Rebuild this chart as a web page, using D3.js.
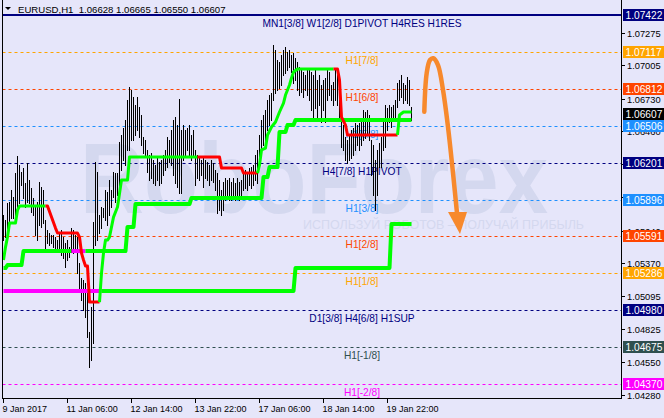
<!DOCTYPE html>
<html>
<head>
<meta charset="utf-8">
<script src="https://cdn.jsdelivr.net/npm/d3@7/dist/d3.min.js"></script>
<style>
  body { margin: 0; background: #E6E6FA; }
  svg { display: block; font-family: "Liberation Sans", Arial, sans-serif; }
</style>
</head>
<body>
<div id="chart"></div>
<script>
var width = 664,
    height = 418;

// header
var symbol = "EURUSD,H1";
var ohlc = [1.06628, 1.06665, 1.06550, 1.06607];
var lastPrice = 1.06607;

// hourly bars, high / low
var barHigh = [
  1.05768,1.05727,1.05867,1.05876,1.05975,1.05917,1.06115,1.06256,1.06181,1.06124,
  1.06157,1.06033,1.06198,1.06057,1.05991,1.05909,1.05851,1.05876,1.06041,1.06000,
  1.05975,1.05727,1.05644,1.05619,1.05603,1.05603,1.05586,1.05561,1.05627,1.05644,
  1.05586,1.05536,1.05561,1.05503,1.05660,1.05644,1.05603,1.05586,1.05371,1.05247,
  1.05230,1.05206,1.05123,1.04800,1.05007,1.05710,1.06206,1.06124,1.05768,1.05834,
  1.05826,1.05975,1.05958,1.06057,1.05975,1.06124,1.06115,1.06115,1.06372,1.06430,
  1.06487,1.06554,1.06719,1.06827,1.06802,1.06744,1.06678,1.06744,1.06661,1.06595,
  1.06413,1.06388,1.06306,1.06264,1.06281,1.06223,1.06181,1.06239,1.06206,1.06223,
  1.06264,1.06306,1.06413,1.06388,1.06471,1.06554,1.06578,1.06512,1.06727,1.06471,
  1.06512,1.06471,1.06487,1.06512,1.06430,1.06471,1.06306,1.06264,1.06248,1.06223,
  1.06248,1.06223,1.06206,1.06181,1.06223,1.06198,1.06140,1.06115,1.06057,1.05975,
  1.06041,1.06074,1.06057,1.06074,1.06041,1.06074,1.06033,1.06074,1.06041,1.06057,
  1.06115,1.06140,1.06124,1.06157,1.06165,1.06181,1.06264,1.06306,1.06430,1.06554,
  1.06595,1.06636,1.06719,1.06760,1.06777,1.07174,1.07132,1.07050,1.07033,1.07091,
  1.07132,1.07157,1.07116,1.07132,1.07091,1.07108,1.07066,1.07033,1.06992,1.06967,
  1.06951,1.06926,1.06967,1.06984,1.06951,1.06926,1.06967,1.06884,1.06926,1.06843,
  1.06884,1.06901,1.06967,1.06951,1.06843,1.06868,1.06967,1.06926,1.06719,1.06578,
  1.06512,1.06413,1.06388,1.06430,1.06471,1.06487,1.06529,1.06512,1.06529,1.06554,
  1.06636,1.06620,1.06636,1.06595,1.06388,1.06347,1.06223,1.06306,1.06363,1.06413,
  1.06554,1.06678,1.06653,1.06678,1.06661,1.06678,1.06719,1.06860,1.06884,1.06926,
  1.06860,1.06843,1.06909,1.06884,1.06665
];
var barLow = [
  1.05561,1.05586,1.05627,1.05685,1.05743,1.05743,1.05743,1.05809,1.05867,1.06016,
  1.05909,1.05834,1.05876,1.05867,1.05793,1.05768,1.05603,1.05561,1.05685,1.05669,
  1.05702,1.05495,1.05536,1.05520,1.05536,1.05503,1.05495,1.05478,1.05462,1.05437,
  1.05412,1.05338,1.05396,1.05421,1.05462,1.05454,1.05478,1.05288,1.05131,1.05065,
  1.04982,1.04924,1.04759,1.04511,1.04569,1.04709,1.05520,1.05561,1.05619,1.05660,
  1.05751,1.05727,1.05685,1.05768,1.05834,1.05917,1.05876,1.05933,1.06000,1.06140,
  1.06223,1.06181,1.06306,1.06306,1.06388,1.06388,1.06430,1.06471,1.06413,1.06347,
  1.06281,1.06264,1.06124,1.06057,1.06074,1.06033,1.06016,1.06057,1.06016,1.06033,
  1.06099,1.06140,1.06165,1.06206,1.06181,1.06099,1.06033,1.06000,1.05950,1.05950,
  1.06223,1.06248,1.06306,1.06264,1.06223,1.06248,1.06016,1.06074,1.06057,1.06099,
  1.06000,1.06074,1.06057,1.06016,1.06057,1.06041,1.05975,1.05784,1.05809,1.05768,
  1.05809,1.05892,1.05909,1.05892,1.05892,1.05909,1.05892,1.05917,1.05892,1.05917,
  1.05975,1.05991,1.05975,1.06016,1.05991,1.06016,1.06057,1.06033,1.06223,1.06306,
  1.06347,1.06388,1.06471,1.06512,1.06554,1.06719,1.06777,1.06802,1.06818,1.06843,
  1.06926,1.06942,1.06967,1.06992,1.06951,1.06860,1.06884,1.06802,1.06760,1.06785,
  1.06744,1.06802,1.06760,1.06719,1.06636,1.06578,1.06653,1.06554,1.06678,1.06537,
  1.06636,1.06537,1.06719,1.06760,1.06719,1.06678,1.06719,1.06678,1.06554,1.06330,
  1.06306,1.06223,1.06198,1.06223,1.06239,1.06264,1.06306,1.06347,1.06306,1.06347,
  1.06388,1.06405,1.06430,1.06388,1.06099,1.05933,1.05809,1.05933,1.06165,1.06165,
  1.06306,1.06330,1.06471,1.06537,1.06496,1.06554,1.06570,1.06661,1.06719,1.06744,
  1.06694,1.06719,1.06694,1.06678,1.06550
];

// time axis
var timeIdx = [0, 32, 64, 96, 128, 160, 192];
var timeLabels = ["9 Jan 2017", "11 Jan 06:00", "12 Jan 14:00", "13 Jan 22:00", "17 Jan 06:00", "18 Jan 14:00", "19 Jan 22:00"];

// price axis
var priceTicks = [1.07275, 1.07005, 1.06730, 1.06460, 1.06190, 1.05915, 1.05640, 1.05370, 1.05095, 1.04825, 1.04550, 1.04280];

// levels
var levelPrices = [1.07422, 1.07117, 1.06812, 1.06506, 1.06201, 1.05896, 1.05591, 1.05286, 1.04980, 1.04675, 1.04370];
var levelNames = ["MN1[3/8] W1[2/8] D1PIVOT H4RES H1RES", "H1[7/8]", "H1[6/8]", "H1[5/8]", "H4[7/8] H1PIVOT",
  "H1[3/8]", "H1[2/8]", "H1[1/8]", "D1[3/8] H4[6/8] H1SUP", "H1[-1/8]", "H1[-2/8]"];
var levelColors = ["#000080", "#FFA500", "#FF4500", "#1E90FF", "#000080", "#1E90FF", "#FF4500", "#FFA500", "#000080", "#2F4F4F", "#FF00FF"];

// step lines: [bar, price, state of the segment starting here]
var fastLine = [
  [0,1.05396,1],[1,1.05503,1],[2,1.05586,1],[3,1.05702,1],[6,1.05702,1],[7,1.05809,1],[8,1.05842,1],
  [21,1.05842,-1],[22,1.05842,-1],[24,1.05751,-1],[26,1.05660,-1],[27,1.05619,-1],[37,1.05619,-1],
  [38,1.05586,-1],[39,1.05454,-1],[40,1.05396,-1],[41,1.05346,-1],[42,1.05346,-1],[43,1.05048,-1],
  [48,1.05048,1],[49,1.05288,1],[50,1.05454,1],[51,1.05561,1],[52,1.05561,1],[53,1.05586,1],
  [55,1.05751,1],[57,1.05834,1],[59,1.06057,1],[62,1.06057,1],[63,1.06248,1],
  [97,1.06248,-1],[108,1.06248,-1],[109,1.06157,-1],[119,1.06157,-1],[120,1.06115,-1],
  [127,1.06115,1],[128,1.06181,1],[129,1.06306,1],[131,1.06322,1],[132,1.06430,1],[134,1.06496,1],
  [136,1.06537,1],[138,1.06620,1],[140,1.06694,1],[141,1.06760,1],[143,1.06843,1],[144,1.06901,1],
  [145,1.06951,1],[147,1.06975,1],
  [165,1.06975,-1],[167,1.06975,-1],[168,1.06884,-1],[169,1.06578,-1],[171,1.06512,-1],[172,1.06430,-1],
  [197,1.06430,1],[198,1.06595,1],[200,1.06620,1],[204,1.06620,1]
];
var slowLine = [
  [0,1.05330,1],[1,1.05330,1],[2,1.05354,1],[9,1.05354,1],[10,1.05470,1],[34,1.05470,2],[41,1.05470,1],
  [61,1.05470,1],[62,1.05669,1],[65,1.05669,1],[66,1.05859,1],[93,1.05859,1],[94,1.05909,1],
  [129,1.05909,1],[130,1.06082,1],[132,1.06082,1],[133,1.06165,1],[137,1.06165,1],[138,1.06454,1],
  [141,1.06454,1],[142,1.06512,1],[145,1.06512,1],[146,1.06554,1],[204,1.06554,1]
];
var baseLine = [
  [0,1.05139,2],[49,1.05139,1],[145,1.05139,1],[146,1.05330,1],[193,1.05330,1],[194,1.05694,1],[204,1.05694,1]
];
var stateColor = { "1": "#00FF00", "-1": "#FF0000", "2": "#FF00FF" };

// forecast arrow, bar / price units
var arrowCurve = [[210.4,1.06622],[211.6,1.06942],[213.25,1.07050],[214.9,1.07064],[217.25,1.07008],
  [219.75,1.06802],[222.25,1.06496],[224.75,1.06115],[226.75,1.05784]];
var arrowHead = [[222.25,1.05793],[231.75,1.05793],[228.25,1.05611]];

var plotL = 2.5, plotR = 621.5, plotB = 398.5;

var x = d3.scaleLinear().domain([0, 204]).range([3.5, 411.5]);
var y = d3.scaleLinear().domain([1.04280, 1.07422]).range([395, 15]);

var svg = d3.select("#chart").append("svg")
    .attr("width", width).attr("height", height);

svg.append("rect").attr("width", width).attr("height", height).attr("fill", "#E6E6FA");

// watermark
var wm = svg.append("g").attr("fill", "#d4d8ef");
wm.append("text")
  .attr("x", 80).attr("y", 213)
  .attr("font-size", 100).attr("font-weight", "bold")
  .attr("textLength", 468).attr("lengthAdjust", "spacingAndGlyphs")
  .text("RoboForex");
wm.append("text")
  .attr("x", 303).attr("y", 229)
  .attr("font-size", 12.5)
  .text("ИСПОЛЬЗУЙ РОБОТОВ – ПОЛУЧАЙ ПРИБЫЛЬ");

// level lines + names
var lev = svg.append("g");
levelPrices.forEach(function(p, k) {
  var yy = Math.round(y(p));
  lev.append("line")
    .attr("x1", plotL).attr("x2", plotR)
    .attr("y1", k === 0 ? yy : yy + 0.5).attr("y2", k === 0 ? yy : yy + 0.5)
    .attr("stroke", levelColors[k])
    .attr("stroke-width", k === 0 ? 2 : 1)
    .attr("stroke-dasharray", k === 0 ? null : "3,3");
  lev.append("text")
    .attr("x", 362).attr("y", yy + 12)
    .attr("text-anchor", "middle")
    .attr("font-size", 10.2)
    .attr("fill", levelColors[k])
    .text(levelNames[k]);
});

// bars
svg.append("g")
  .attr("stroke", "#000").attr("shape-rendering", "crispEdges")
  .selectAll("line")
  .data(barHigh)
  .join("line")
  .attr("x1", function(d, i) { return Math.floor(x(i)) + 0.5; })
  .attr("x2", function(d, i) { return Math.floor(x(i)) + 0.5; })
  .attr("y1", function(d) { return Math.round(y(d)); })
  .attr("y2", function(d, i) { return Math.round(y(barLow[i])) + 1; });

// step lines
function runs(pts) {
  var out = [], cur = null;
  pts.forEach(function(p, k) {
    if (k === pts.length - 1) { if (cur) cur.pts.push(p); return; }
    if (!cur || cur.s !== p[2]) {
      if (cur) cur.pts.push(p);
      cur = { s: p[2], pts: [p] };
      out.push(cur);
    } else cur.pts.push(p);
  });
  return out;
}
var line = d3.line()
  .x(function(d) { return x(d[0]); })
  .y(function(d) { return y(d[1]); });

[[baseLine, 4], [slowLine, 4], [fastLine, 3]].forEach(function(l) {
  svg.append("g").selectAll("path")
    .data(runs(l[0]))
    .join("path")
    .attr("d", function(r) { return line(r.pts); })
    .attr("fill", "none")
    .attr("stroke", function(r) { return stateColor[r.s]; })
    .attr("stroke-width", l[1])
    .attr("stroke-linejoin", "round");
});

// arrow
var arrowLine = d3.line()
  .x(function(d) { return x(d[0]); })
  .y(function(d) { return y(d[1]); })
  .curve(d3.curveCatmullRom);
svg.append("path")
  .attr("d", arrowLine(arrowCurve))
  .attr("fill", "none").attr("stroke", "#f7892c")
  .attr("stroke-width", 4.5).attr("stroke-linecap", "round");
svg.append("path")
  .attr("d", line(arrowHead) + "Z")
  .attr("fill", "#f7892c");

// frame
var frame = svg.append("g").attr("stroke", "#000").attr("fill", "none").attr("shape-rendering", "crispEdges");
frame.append("path").attr("d", "M" + plotL + ",0V" + plotB + "H" + plotR + "V0");

// time axis
var ta = svg.append("g");
timeIdx.forEach(function(i, k) {
  var xx = Math.floor(x(i)) + 0.5;
  ta.append("line").attr("x1", xx).attr("x2", xx).attr("y1", 399).attr("y2", 403)
    .attr("stroke", "#000").attr("shape-rendering", "crispEdges");
  ta.append("text").attr("x", xx - 1).attr("y", 412)
    .attr("font-size", 9).attr("fill", "#000")
    .text(timeLabels[k]);
});

// price axis
var pa = svg.append("g");
priceTicks.forEach(function(p) {
  var yy = Math.round(y(p)) + 0.5;
  pa.append("line").attr("x1", 621).attr("x2", 625).attr("y1", yy).attr("y2", yy)
    .attr("stroke", "#000").attr("shape-rendering", "crispEdges");
  pa.append("text").attr("x", 627).attr("y", yy + 3.5)
    .attr("font-size", 9.3).attr("fill", "#000")
    .text(d3.format(".5f")(p));
});

function priceBox(p, c) {
  var yy = Math.round(y(p));
  pa.append("rect").attr("x", 623).attr("y", yy - 6).attr("width", 41).attr("height", 12).attr("fill", c);
  pa.append("text").attr("x", 625.5).attr("y", yy + 4)
    .attr("font-size", 10.2).attr("fill", "#fff")
    .text(d3.format(".5f")(p));
}
levelPrices.forEach(function(p, k) { priceBox(p, levelColors[k]); });
priceBox(lastPrice, "#000");

// header
svg.append("path").attr("d", "M5,7H11L8,10Z").attr("fill", "#000");
svg.append("text")
  .attr("x", 18).attr("y", 12.5)
  .attr("font-size", 9.6).attr("fill", "#000")
  .style("white-space", "pre")
  .text(symbol + "  " + ohlc.map(d3.format(".5f")).join(" "));
</script>
</body>
</html>
